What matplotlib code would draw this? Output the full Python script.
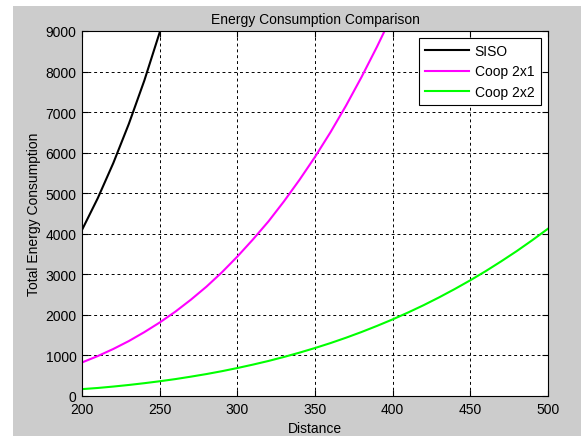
import numpy as np
import matplotlib.pyplot as plt
from matplotlib.patches import Rectangle

plt.rcParams['font.family'] = ['Liberation Sans', 'DejaVu Sans']

# values
siso_dist = [200, 210, 220, 230, 240, 250, 260]
siso_energy = [4110, 4880, 5745, 6710, 7780, 8980, 10290]

coop21_dist = [200, 210, 220, 230, 240, 250, 260, 270, 280, 290, 300,
               310, 320, 330, 340, 350, 360, 370, 380, 390, 400]
coop21_energy = [830, 985, 1160, 1355, 1575, 1815, 2080, 2375, 2695, 3050, 3440,
                 3860, 4305, 4800, 5330, 5895, 6505, 7160, 7865, 8615, 9410]

coop22_dist = [200, 210, 220, 230, 240, 250, 260, 270, 280, 290, 300,
               310, 320, 330, 340, 350, 360, 370, 380, 390, 400,
               410, 420, 430, 440, 450, 460, 470, 480, 490, 500]
coop22_energy = [170, 198, 233, 272, 316, 364, 417, 477, 541, 612, 690,
                 774, 864, 963, 1069, 1183, 1305, 1437, 1578, 1729, 1888,
                 2059, 2239, 2432, 2636, 2851, 3078, 3320, 3572, 3840, 4120]

x_ticks = [200, 250, 300, 350, 400, 450, 500]
y_ticks = [0, 1000, 2000, 3000, 4000, 5000, 6000, 7000, 8000, 9000]

fs = 10

fig = plt.figure(figsize=(5.81, 4.39), dpi=100)
fig.patch.set_facecolor('white')
# gray MATLAB-style figure background (small white strip left/top)
fig.patches.append(Rectangle((13 / 581, 2 / 439), 1 - 13 / 581, (437 - 7) / 439,
                             transform=fig.transFigure, facecolor='#cccccc',
                             edgecolor='none', zorder=-10))

ax = fig.add_axes([82.3 / 581, 1 - 397 / 439, (547.7 - 82.3) / 581, (397 - 32) / 439])
ax.set_facecolor('white')

ax.plot(siso_dist, siso_energy, color='black', lw=1.5, label='SISO')
ax.plot(coop21_dist, coop21_energy, color='#ff00ff', lw=1.5, label='Coop 2x1')
ax.plot(coop22_dist, coop22_energy, color='#00ff00', lw=1.5, label='Coop 2x2')

ax.set_xlim(200, 500)
ax.set_ylim(0, 9000)
ax.set_xticks(x_ticks)
ax.set_yticks(y_ticks)
ax.grid(True, color='black', linestyle=(0, (3, 3)), linewidth=0.7)
ax.tick_params(direction='in', top=True, right=True, length=4, width=0.8,
               labelsize=fs, pad=4, colors='black')
for s in ax.spines.values():
    s.set_linewidth(0.8)
    s.set_color('black')

ax.set_title('Energy Consumption Comparison', fontsize=fs, pad=6)
ax.set_xlabel('Distance', fontsize=fs, labelpad=4)
ax.set_ylabel('Total Energy Consumption', fontsize=fs, labelpad=3)

leg = ax.legend(loc='upper right', fontsize=fs, fancybox=False, framealpha=1,
                edgecolor='black', handlelength=3.2, handletextpad=0.4,
                labelspacing=0.45, borderaxespad=0.5, borderpad=0.45)
leg.get_frame().set_linewidth(0.8)

fig.savefig('out.png', dpi=100, facecolor=fig.get_facecolor())
